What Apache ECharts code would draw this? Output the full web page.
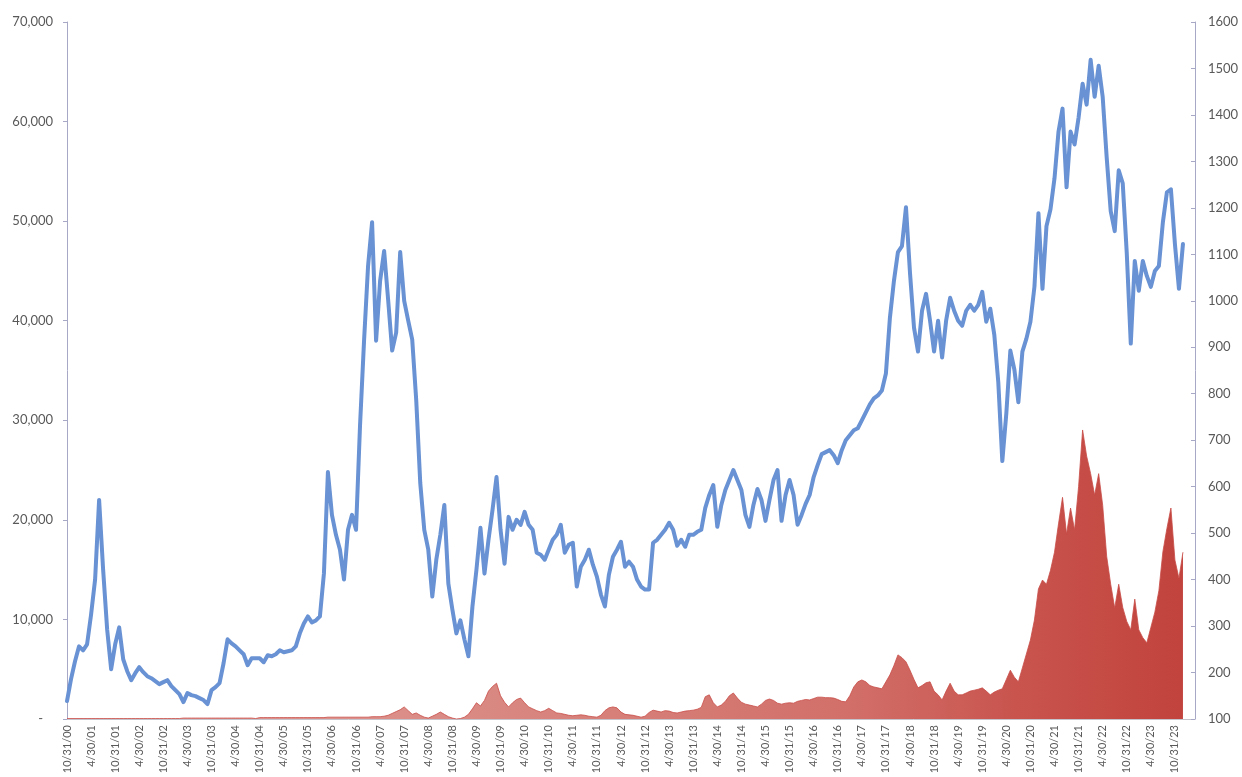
<!DOCTYPE html>
<html>
<head>
<meta charset="utf-8">
<script src="https://cdn.jsdelivr.net/npm/echarts@6/dist/echarts.min.js"></script>
<style>
html,body{margin:0;padding:0;background:#fff;}
#chart{width:1242px;height:777px;}
</style>
</head>
<body>
<div id="chart"></div>
<script>
// Month-end dates from 10/31/00, one category per month (axis runs a little past the last value)
const startYear = 2000, startMonth = 9, categoryCount = 282;
const monthDays = [31,28,31,30,31,30,31,31,30,31,30,31];
const categories = [];
for (let i = 0; i < categoryCount; i++) {
  const mo = (startMonth + i) % 12;
  const yr = startYear + Math.floor((startMonth + i) / 12);
  let d = monthDays[mo];
  if (mo === 1 && yr % 4 === 0) d = 29;
  categories.push((mo + 1) + '/' + d + '/' + String(yr % 100).padStart(2, '0'));
}

// Blue line (left axis), month-end values
const blueValues = [
  1800, 4000, 5800, 7300, 6900, 7500, 10500, 14000, 22000, 15000, 9000, 5000,
  7500, 9200, 6000, 4800, 3900, 4600, 5200, 4700, 4300, 4100, 3800, 3500,
  3700, 3900, 3300, 2900, 2500, 1700, 2600, 2400, 2300, 2100, 1900, 1500,
  2900, 3200, 3600, 5600, 8000, 7600, 7300, 6900, 6500, 5400, 6100, 6100,
  6100, 5700, 6400, 6300, 6500, 6900, 6700, 6800, 6900, 7300, 8600, 9600,
  10300, 9700, 9900, 10300, 14600, 24800, 20500, 18500, 17000, 14000, 19000, 20500,
  19000, 29500, 38000, 45500, 49900, 38000, 44000, 47000, 42100, 37000, 38800, 46900,
  42000, 40000, 38100, 32000, 23700, 19000, 17000, 12300, 16000, 18500, 21500, 13600,
  11000, 8600, 9900, 8000, 6300, 11300, 15000, 19200, 14600, 18000, 21000, 24300,
  19000, 15600, 20300, 19000, 20000, 19500, 20800, 19500, 19000, 16700, 16500, 16000,
  17000, 18000, 18500, 19500, 16700, 17500, 17700, 13300, 15300, 16000, 17000, 15500,
  14300, 12500, 11300, 14500, 16300, 17000, 17800, 15300, 15800, 15300, 14000, 13300,
  13000, 13000, 17700, 18000, 18500, 19000, 19700, 19000, 17400, 18000, 17300, 18500,
  18500, 18800, 19000, 21200, 22500, 23500, 19300, 21500, 23000, 24000, 25000, 24000,
  23000, 20500, 19300, 21500, 23100, 22000, 19900, 22000, 24000, 25000, 19900, 22500,
  24000, 22500, 19500, 20500, 21600, 22500, 24300, 25500, 26600, 26800, 27000, 26500,
  25700, 27000, 28000, 28500, 29000, 29200, 30000, 30800, 31600, 32200, 32500, 33000,
  34700, 40300, 44000, 46900, 47500, 51400, 44800, 39300, 36900, 41000, 42700, 40000,
  36900, 40000, 36300, 40000, 42300, 41000, 40000, 39500, 41000, 41600, 41000, 41600,
  42900, 39900, 41200, 38600, 33800, 25900, 30700, 37000, 35100, 31800, 36900, 38200,
  39900, 43400, 50800, 43200, 49500, 51200, 54300, 59000, 61300, 53400, 59000, 57700,
  60400, 63800, 61700, 66200, 62500, 65600, 62500, 56400, 51000, 49000, 55100, 53800,
  46800, 37700, 46000, 43000, 46000, 44500, 43400, 45000, 45500, 49900, 52900, 53200,
  47700, 43200, 47700
];

// Red area (right axis), month-end values
const redValues = [
  101, 101, 101, 101, 101, 101, 101, 101, 101, 101, 101, 101,
  101, 101, 101, 101, 101, 101, 101, 101, 101, 101, 101, 101,
  101, 101, 101, 101, 101, 102, 102, 102, 102, 102, 102, 102,
  102, 102, 102, 102, 102, 102, 102, 102, 102, 102, 102, 101,
  103, 103, 103, 103, 103, 103, 103, 103, 103, 103, 103, 103,
  103, 103, 103, 103, 103, 104, 104, 104, 104, 104, 104, 104,
  104, 104, 104, 104, 105, 105, 105, 106, 108, 112, 116, 120,
  126, 118, 110, 113, 108, 104, 102, 106, 110, 115, 110, 105,
  102, 100, 101, 104, 110, 122, 135, 128, 140, 160, 170, 177,
  150, 136, 126, 135, 142, 145, 135, 126, 122, 118, 115, 118,
  123, 118, 113, 112, 110, 108, 107, 108, 109, 108, 106, 105,
  104, 108, 118, 124, 126, 124, 115, 110, 109, 108, 106, 104,
  106, 114, 119, 117, 115, 118, 117, 114, 113, 115, 117, 118,
  119, 121, 125, 148, 152, 135, 126, 130, 138, 150, 156, 145,
  136, 132, 130, 128, 126, 132, 140, 143, 140, 134, 132, 134,
  135, 134, 138, 140, 142, 141, 144, 147, 147, 146, 146, 145,
  142, 138, 137, 150, 169, 180, 184, 180, 172, 169, 167, 165,
  180, 195, 215, 238, 232, 223, 205, 185, 167, 172, 178, 180,
  160, 152, 141, 160, 177, 160, 152, 152, 156, 160, 162, 164,
  167, 160, 152, 158, 162, 165, 185, 205, 190, 180, 210, 240,
  270, 313, 380, 399, 390, 420, 459, 520, 577, 498, 554, 507,
  600, 722, 666, 628, 582, 628, 560, 450, 390, 339, 390, 340,
  310, 292, 358, 292, 275, 264, 297, 330, 376, 460, 510, 554,
  442, 403, 459
];

const labelColor = '#595959';
const axisColor = '#a6a8c6';
const fontFamily = 'Lato, "Open Sans", sans-serif';

const chart = echarts.init(document.getElementById('chart'), null, {renderer: 'canvas'});
chart.setOption({
  animation: false,
  backgroundColor: '#ffffff',
  grid: {left: 67, right: 47, top: 22, bottom: 58, containLabel: false},
  xAxis: {
    type: 'category',
    data: categories,
    boundaryGap: false,
    axisLine: {show: true, lineStyle: {color: '#c4c4cc', width: 1}},
    axisTick: {show: false},
    axisLabel: {
      rotate: 90,
      interval: function (idx) { return idx % 6 === 0; },
      color: labelColor,
      fontSize: 11,
      fontFamily: fontFamily,
      margin: 6
    },
    splitLine: {show: false}
  },
  yAxis: [
    {
      type: 'value',
      min: 0, max: 70000, interval: 10000,
      position: 'left',
      axisLine: {show: true, lineStyle: {color: axisColor, width: 1}},
      axisTick: {show: true, inside: false, length: 4, lineStyle: {color: axisColor}},
      axisLabel: {
        color: labelColor, fontSize: 13, fontFamily: fontFamily, margin: 14,
        formatter: function (v) { return v === 0 ? '-   ' : v.toLocaleString('en-US'); }
      },
      splitLine: {show: false}
    },
    {
      type: 'value',
      min: 100, max: 1600, interval: 100,
      position: 'right',
      axisLine: {show: true, lineStyle: {color: axisColor, width: 1}},
      axisTick: {show: true, inside: true, length: 4, lineStyle: {color: axisColor}},
      axisLabel: {
        color: labelColor, fontSize: 13, fontFamily: fontFamily, margin: 13,
        formatter: function (v) { return String(v); }
      },
      splitLine: {show: false}
    }
  ],
  series: [
    {
      name: 'red',
      type: 'line',
      yAxisIndex: 1,
      data: redValues,
      symbol: 'none',
      smooth: false,
      lineStyle: {width: 0.8, color: '#c84d48'},
      areaStyle: {
        opacity: 1,
        origin: 'start',
        color: new echarts.graphic.LinearGradient(0, 0, 1, 0, [
          {offset: 0, color: '#e2a29d'},
          {offset: 0.4, color: '#d98680'},
          {offset: 0.7, color: '#d26f69'},
          {offset: 0.85, color: '#c9544e'},
          {offset: 1, color: '#c2433d'}
        ])
      },
      z: 2
    },
    {
      name: 'blue',
      type: 'line',
      yAxisIndex: 0,
      data: blueValues,
      symbol: 'none',
      smooth: false,
      lineStyle: {width: 4, color: '#6892d3', join: 'round', cap: 'round'},
      z: 3
    }
  ]
});
</script>
</body>
</html>
